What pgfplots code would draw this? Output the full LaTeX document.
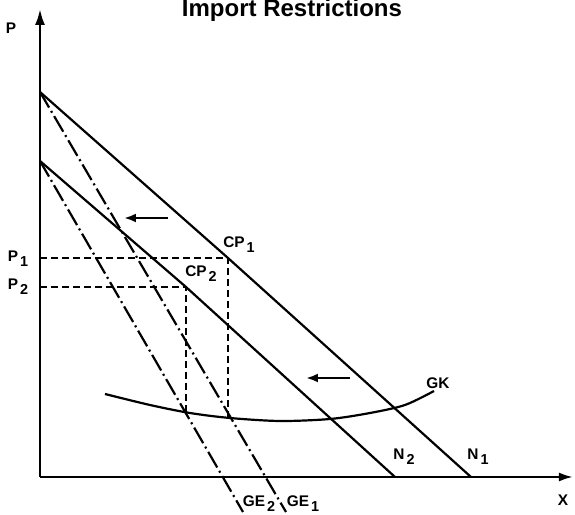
\documentclass[border=0pt]{standalone}
\usepackage{pgfplots}
\pgfplotsset{compat=1.18}
\usepackage{fontspec}
\setmainfont{Liberation Sans}
\usetikzlibrary{arrows.meta}
\newcommand\sub[1]{\kern1pt\raisebox{-2.4pt}{\fontsize{7.2}{8}\selectfont\bfseries #1}}
\tikzset{lbl/.style={font=\bfseries\fontsize{7.7}{9}\selectfont}}
\begin{document}
\begin{tikzpicture}
\begin{axis}[width=287.5pt,height=257.5pt,scale only axis,
  xmin=-40,xmax=535,ymin=-38,ymax=477,axis lines=none,clip=false]
% axes
\addplot[line width=1.2pt,-{Latex[length=7pt,width=4.5pt]}] coordinates {(0,0) (533,0)};
\addplot[line width=1.2pt,-{Latex[length=8pt,width=5pt]}] coordinates {(0,0) (0,468)};
% N1, N2
\addplot[line width=1.1pt] coordinates {(0,385) (188,219) (431,0)};
\addplot[line width=1.1pt] coordinates {(0,316) (146,190) (355,0)};
% GE1, GE2
\addplot[line width=1.1pt,dash pattern=on 9pt off 2pt on 1pt off 2pt] coordinates {(0,385) (246,-35)};
\addplot[line width=1.1pt,dash pattern=on 9pt off 2pt on 1pt off 2pt] coordinates {(0,316) (203,-35)};
% dashed
\addplot[line width=1.1pt,dash pattern=on 3.5pt off 2pt] coordinates {(0,219) (188,219) (188,59)};
\addplot[line width=1.1pt,dash pattern=on 3.5pt off 2pt] coordinates {(0,190) (146,190) (146,64)};
% GK
\addplot[line width=1.1pt,smooth] coordinates {(65,83) (110,72) (150,64) (190,59) (240,56) (290,58) (330,64) (365,72) (394,86)};
% shift arrows
\addplot[line width=1.3pt,-{Latex[length=6pt,width=4.5pt]}] coordinates {(128,259) (84,259)};
\addplot[line width=1.3pt,-{Latex[length=6pt,width=4.5pt]}] coordinates {(310,99) (266,99)};
% labels
\node[anchor=base,font=\bfseries\fontsize{12}{14}\selectfont] at (axis cs:252,460) {Import Restrictions};
\node[lbl] at (axis cs:-29,449) {P};
\node[lbl] at (axis cs:-22,218) {P\sub{1}};
\node[lbl] at (axis cs:-22,190) {P\sub{2}};
\node[lbl] at (axis cs:199,232) {CP\sub{1}};
\node[lbl] at (axis cs:161,203) {CP\sub{2}};
\node[lbl] at (axis cs:398,94) {GK};
\node[lbl] at (axis cs:364,20) {N\sub{2}};
\node[lbl] at (axis cs:438,20) {N\sub{1}};
\node[lbl] at (axis cs:523,-23) {X};
\node[lbl] at (axis cs:219,-27) {GE\sub{2}};
\node[lbl] at (axis cs:263,-27) {GE\sub{1}};
\end{axis}
\pgfresetboundingbox
\path[use as bounding box] (current axis.south west) rectangle (current axis.north east);
\end{tikzpicture}
\end{document}
